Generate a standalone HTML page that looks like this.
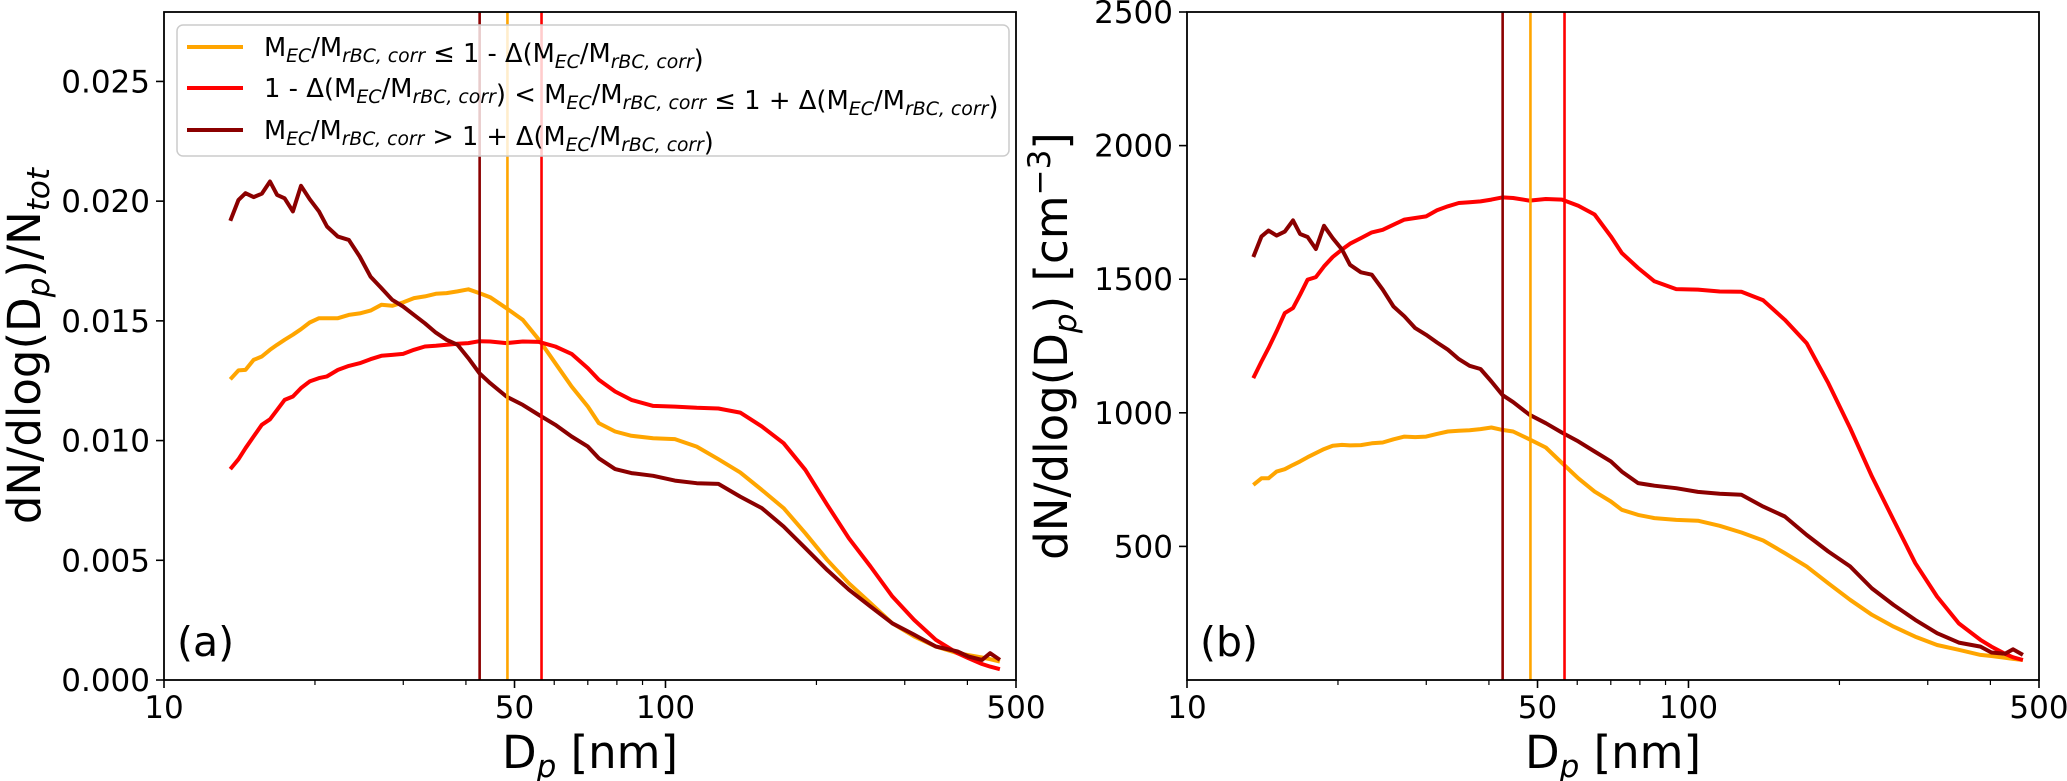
<!DOCTYPE html>
<html><head><meta charset="utf-8"><title>Size distributions</title>
<style>
html,body{margin:0;padding:0;background:#fff;}
svg{display:block;font-family:"DejaVu Sans","Liberation Sans",sans-serif;}
</style></head>
<body>
<svg id="fig" width="2067" height="781" viewBox="0 0 2067 781" xmlns="http://www.w3.org/2000/svg"></svg>
<script>
// ---- shared x values (particle diameter, nm) ----
const diam = [13.56,14.08,14.54,15.09,15.67,16.27,16.81,17.40,18.07,18.76,19.52,20.37,21.14,22.22,23.36,24.56,25.81,27.13,28.52,29.98,31.51,33.13,34.83,36.61,38.48,40.45,42.53,44.70,48.18,51.93,55.95,60.30,64.99,70.04,73.62,79.35,85.51,94.50,104.4,115.4,127.5,140.9,155.6,172.0,190.0,210.0,232.1,256.4,283.4,313.1,345.9,382.2,401.8,427.7,444.0,464.4];
// ---- panel (a): normalized, values in units of 1e-3 ----
const normLow = [12.56,12.93,12.95,13.37,13.51,13.79,14.00,14.21,14.42,14.65,14.93,15.11,15.11,15.11,15.25,15.31,15.43,15.67,15.63,15.77,15.95,16.02,16.13,16.16,16.23,16.32,16.16,15.99,15.53,15.04,14.21,13.23,12.26,11.42,10.73,10.38,10.20,10.10,10.06,9.75,9.22,8.67,7.94,7.18,6.13,5.02,4.04,3.21,2.37,1.82,1.40,1.12,1.04,0.94,0.87,0.77];
const normMid = [8.81,9.22,9.68,10.17,10.66,10.89,11.28,11.70,11.84,12.19,12.47,12.61,12.68,12.95,13.12,13.23,13.40,13.54,13.58,13.62,13.79,13.93,13.96,14.00,14.04,14.07,14.15,14.14,14.07,14.14,14.12,13.93,13.62,13.02,12.54,12.05,11.70,11.45,11.42,11.37,11.34,11.17,10.59,9.89,8.78,7.32,5.92,4.74,3.49,2.51,1.68,1.12,0.91,0.67,0.56,0.45];
const normHigh = [19.18,20.05,20.33,20.17,20.31,20.82,20.26,20.12,19.57,20.64,20.08,19.57,18.94,18.52,18.38,17.69,16.85,16.37,15.88,15.60,15.25,14.90,14.51,14.21,14.00,13.44,12.82,12.40,11.84,11.49,11.07,10.66,10.17,9.75,9.26,8.81,8.64,8.53,8.33,8.22,8.19,7.66,7.18,6.41,5.51,4.60,3.77,3.07,2.37,1.89,1.40,1.19,0.98,0.84,1.12,0.84];
// ---- panel (b): absolute, cm^-3 ----
const absLow = [730,755,755,780,789,805,818,834,849,864,877,880,878,879,886,889,901,911,909,911,921,930,933,935,939,945,936,930,901,870,812,755,705,668,637,618,606,599,596,577,552,522,475,425,362,300,244,200,162,131,113,94,90,83,79,75];
const absMid = [1130,1192,1242,1305,1373,1392,1442,1498,1508,1548,1583,1611,1633,1654,1675,1685,1704,1723,1729,1735,1758,1773,1785,1788,1791,1798,1806,1804,1794,1800,1798,1775,1742,1660,1598,1542,1492,1463,1461,1454,1453,1421,1348,1261,1111,943,762,599,437,312,212,150,125,98,85,75];
const absHigh = [1583,1660,1682,1663,1678,1720,1669,1658,1613,1700,1654,1611,1554,1526,1517,1461,1398,1361,1317,1292,1263,1236,1201,1176,1164,1117,1067,1040,993,961,926,893,855,818,780,737,727,718,704,697,693,649,612,543,481,425,343,281,225,175,140,125,103,98,115,94];
// ---- vertical reference diameters ----
const refDiam = [42.6, 48.4, 56.6];
// ---- ticks ----
const xTickVals = [10,50,100,500];
const xTickLabels = ["10","50","100","500"];
const xMinor = [20,30,40,60,70,80,90,200,300,400];
const yTicksA = [0,0.005,0.010,0.015,0.020,0.025];
const yTickLabelsA = ["0.000","0.005","0.010","0.015","0.020","0.025"];
const yTicksB = [500,1000,1500,2000,2500];
const yTickLabelsB = ["500","1000","1500","2000","2500"];

const COLORS = ["#FFA500","#FF0000","#8B0000"];
const NS = "http://www.w3.org/2000/svg";
const svg = document.getElementById("fig");
function el(tag, attrs, parent){const e=document.createElementNS(NS,tag);for(const k in attrs)e.setAttribute(k,attrs[k]);(parent||svg).appendChild(e);return e;}

function makePanel(cfg){
  const g = el("g",{});
  
  
  const X0=cfg.x0, X1=cfg.x1, Y0=680, Y1=12;
  const lx0=1, lx1=Math.log10(500);
  const xs = d => X0 + (Math.log10(d)-lx0)/(lx1-lx0)*(X1-X0);
  const ys = v => Y0 - (v-cfg.ymin)/(cfg.ymax-cfg.ymin)*(Y0-Y1);
  // series
  cfg.series.forEach((s,i)=>{
    const pts = diam.map((d,j)=>xs(d).toFixed(1)+","+ys(s[j]*cfg.scale).toFixed(1)).join(" ");
    const p = el("polyline",{points:pts,fill:"none",stroke:COLORS[i],"stroke-width":"4","stroke-linejoin":"round"},g);
    
    
  });
  // vertical lines
  const vOrder=[2,0,1];
  refDiam.forEach((d,i)=>{
    const l = el("line",{x1:xs(d),x2:xs(d),y1:Y1,y2:Y0,stroke:COLORS[vOrder[i]],"stroke-width":"2.6"},g);
    
    
  });
  // axes frame
  const fr = el("rect",{x:X0,y:Y1,width:X1-X0,height:Y0-Y1,fill:"none",stroke:"#000","stroke-width":"1.8"},g);
  
  
  // x ticks
  xTickVals.forEach((v,i)=>{
    el("line",{x1:xs(v),x2:xs(v),y1:Y0,y2:Y0+8,stroke:"#000","stroke-width":"1.6"},g);
    const t = el("text",{x:xs(v),y:718,"font-size":"31","text-anchor":"middle"},g);
    t.textContent = xTickLabels[i];
    
    
  });
  xMinor.forEach(v=>{ el("line",{x1:xs(v),x2:xs(v),y1:Y0,y2:Y0+5,stroke:"#000","stroke-width":"1.2"},g); });
  // y ticks
  cfg.yt.forEach((v,i)=>{
    el("line",{x1:X0-8,x2:X0,y1:ys(v),y2:ys(v),stroke:"#000","stroke-width":"1.6"},g);
    const t = el("text",{x:X0-14,y:ys(v)+11,"font-size":"31","text-anchor":"end"},g);
    t.textContent = cfg.ytl[i];
    
    
  });
  // panel letter
  const pl = el("text",{x:X0+13,y:656,"font-size":"41"},g);
  pl.textContent = cfg.letter;
  
  
  // x label
  const xl = el("text",{x:(X0+X1)/2,y:768,"font-size":"45","text-anchor":"middle"},g);
  xl.innerHTML = 'D<tspan font-size="31" font-style="italic" dy="9">p</tspan><tspan dy="-9"> [nm]</tspan>';
  
  
  // y label
  const yl = el("text",{x:0,y:0,"font-size":"45","text-anchor":"middle",transform:`translate(${cfg.ylx},346) rotate(-90)`},g);
  yl.innerHTML = cfg.ylabel;
  
  
}

makePanel({name:"panel-a-normalized",x0:164,x1:1016,ymin:0,ymax:0.0279,scale:0.001,
  series:[normLow,normMid,normHigh],seriesNames:["line-ratio-low","line-ratio-mid","line-ratio-high"],
  yt:yTicksA,ytl:yTickLabelsA,letter:"(a)",ylx:40,
  ylabel:'dN/dlog(D<tspan font-size="31" font-style="italic" dy="9">p</tspan><tspan dy="-9">)/N</tspan><tspan font-size="31" font-style="italic" dy="9">tot</tspan>'});
makePanel({name:"panel-b-absolute",x0:1187,x1:2039,ymin:0,ymax:2500,scale:1,
  series:[absLow,absMid,absHigh],seriesNames:["line-ratio-low","line-ratio-mid","line-ratio-high"],
  yt:yTicksB,ytl:yTickLabelsB,letter:"(b)",ylx:1067,
  ylabel:'dN/dlog(D<tspan font-size="31" font-style="italic" dy="9">p</tspan><tspan dy="-9">) [cm</tspan><tspan font-size="31" dy="-17">−3</tspan><tspan dy="17">]</tspan>'});

// legend
const lg = el("g",{});


el("rect",{x:177,y:25,width:832,height:131,rx:6,fill:"#fff","fill-opacity":"0.8",stroke:"#ccc","stroke-width":"1.5"},lg);
const sub = s => `<tspan font-size="19" font-style="italic" dy="6">${s}</tspan><tspan dy="-6">`;
const ratio = `M${sub("EC")}/</tspan>M${sub("rBC, corr")}</tspan>`;
const legendTexts = [
  `${ratio} ≤ 1 - Δ(${ratio})`,
  `1 - Δ(${ratio}) &lt; ${ratio} ≤ 1 + Δ(${ratio})`,
  `${ratio} &gt; 1 + Δ(${ratio})`
];
const legendWidths=[440,735,450];
const rowY=[47,88,130];
legendTexts.forEach((t,i)=>{
  const h = el("line",{x1:187,x2:243,y1:rowY[i],y2:rowY[i],stroke:COLORS[i],"stroke-width":"4"},lg);
  
  
  const tx = el("text",{x:264,y:rowY[i]+9,"font-size":"26"},lg);
  tx.innerHTML = t;
  
  
  // fit width
  try{ const w = tx.getComputedTextLength(); if(w>0){ tx.setAttribute('transform',`translate(264,0) scale(${legendWidths[i]/w},1) translate(-264,0)`);} }catch(e){}
});
</script>
</body></html>
